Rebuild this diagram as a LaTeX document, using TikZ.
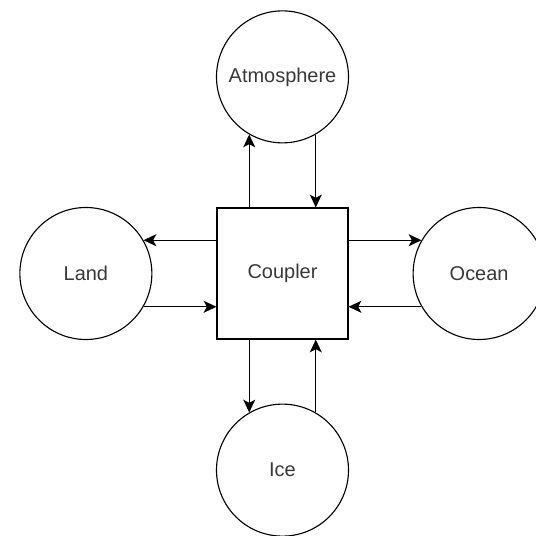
\documentclass[tikz,border=0pt]{standalone}
\usepackage{fontspec}
\setmainfont{Liberation Sans}
\usetikzlibrary{positioning,arrows.meta}

\tikzset{
    modelo/.style={circle, draw, minimum size=3.3cm, inner sep=0pt},
    acoplador/.style={rectangle, draw, minimum size=3.275cm, inner sep=0pt},
    flujo/.style={-{Stealth[length=3.2mm,width=3mm,inset=0.8mm]}},
}

\begin{document}
\begin{tikzpicture}[line width=0.8pt, node distance=1.6cm,
        font=\fontsize{14.2}{17}\selectfont, text=black!78]
        % Marco de la figura.
        \useasboundingbox (-7.0625,-6.5625) rectangle (6.3375,6.8375);

        % El acoplador en el centro.
        \node[acoplador] (coupler) at (0,0) {Coupler};

        % Los cuatro componentes alrededor.
        \node[modelo, above=of coupler] (atmosphere) {Atmosphere};
        \node[modelo, left=of coupler] (land) {Land};
        \node[modelo, right=of coupler] (ocean) {Ocean};
        \node[modelo, below=of coupler] (ice) {Ice};

        % Intercambio con la atmósfera.
        \draw[flujo] (coupler.north -| atmosphere.240) -- (atmosphere.240);
        \draw[flujo] (atmosphere.300) -- (coupler.north -| atmosphere.300);

        % Intercambio con la tierra.
        \draw[flujo] (coupler.west |- land.30) -- (land.30);
        \draw[flujo] (land.330) -- (coupler.west |- land.330);

        % Intercambio con el océano.
        \draw[flujo] (coupler.east |- ocean.150) -- (ocean.150);
        \draw[flujo] (ocean.210) -- (coupler.east |- ocean.210);

        % Intercambio con el hielo.
        \draw[flujo] (coupler.south -| ice.120) -- (ice.120);
        \draw[flujo] (ice.60) -- (coupler.south -| ice.60);
    \end{tikzpicture}
\end{document}
